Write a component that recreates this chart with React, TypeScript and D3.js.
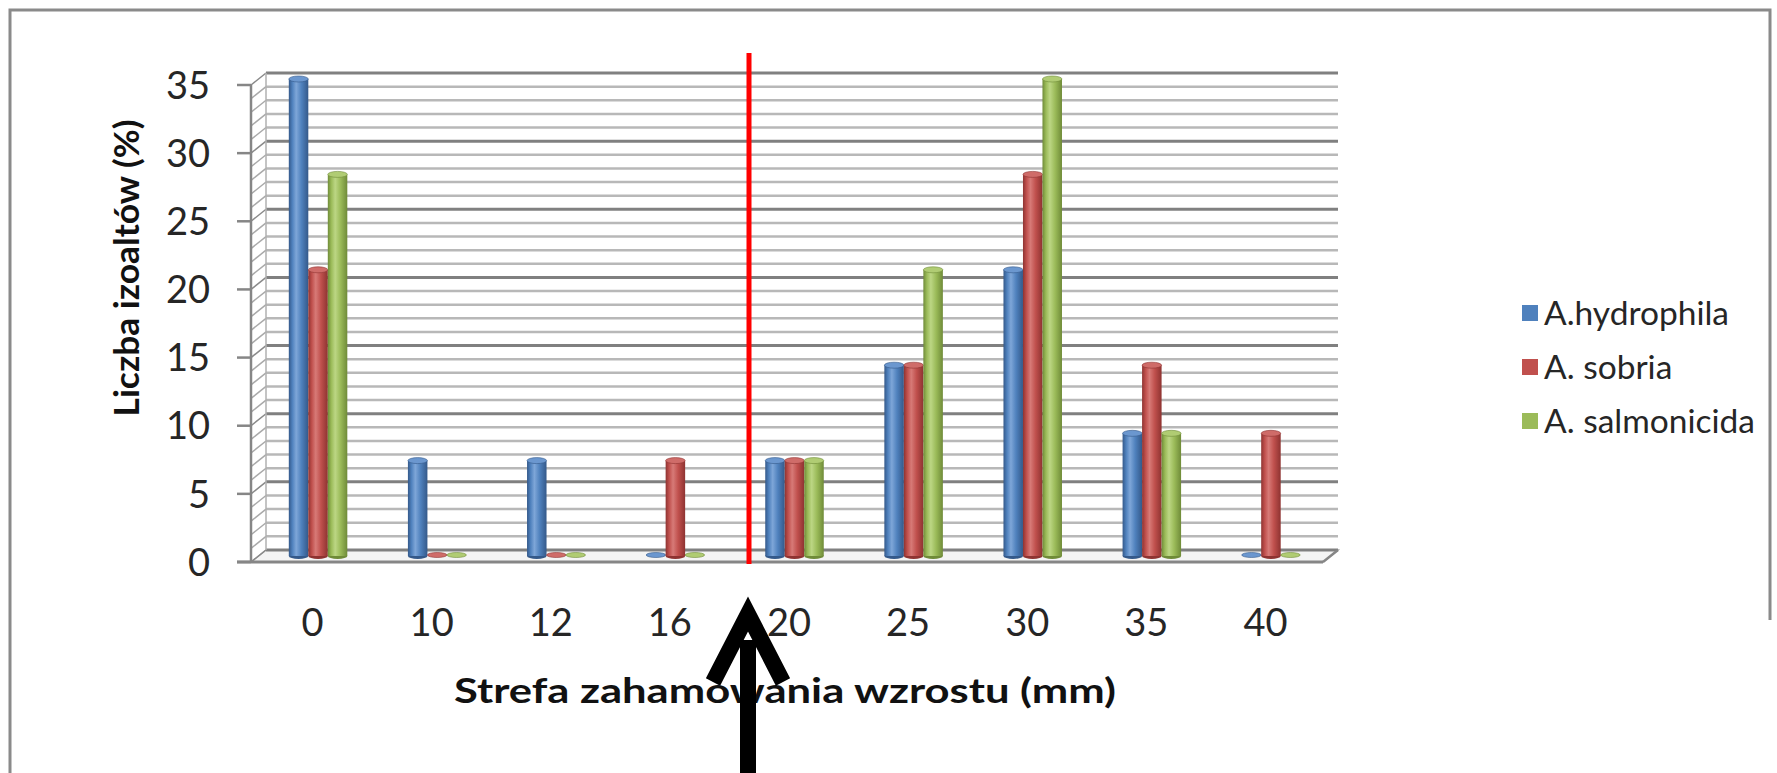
import React from "react";
import * as d3 from "d3";

const categories = ["0", "10", "12", "16", "20", "25", "30", "35", "40"];
const seriesNames = ["A.hydrophila", "A. sobria", "A. salmonicida"];
const hydrophila = [35, 7, 7, 0, 7, 14, 21, 9, 0];
const sobria = [21, 0, 0, 7, 7, 14, 28, 14, 9];
const salmonicida = [28, 0, 0, 0, 7, 21, 35, 9, 0];
const yTicks = [0, 5, 10, 15, 20, 25, 30, 35];
const yMinor = d3.range(0, 36, 1);
const seriesValues = [hydrophila, sobria, salmonicida];

const colors = [
  { base: "#4F81BD", dark: "#34598a", light: "#7ea6d8", top: "#6b97cf" },
  { base: "#C0504D", dark: "#8e3331", light: "#d77a77", top: "#cf6c69" },
  { base: "#9BBB59", dark: "#6f8b38", light: "#bcd684", top: "#b0cc73" },
];

const W = 1777;
const H = 773;
const DX = 15;
const DY = -12;
const FONT = "Lato, 'Open Sans', sans-serif";

export default function App() {
  const x = d3.scaleBand<string>().domain(categories).range([251, 1323]);
  const y = d3.scaleLinear().domain([0, 35]).range([562, 85]);
  const groupW = 58.5;
  const xs = d3.scaleBand<number>().domain([0, 1, 2]).range([0, groupW]);
  const bw = xs.bandwidth();
  const left = 251;
  const right = 1323;

  return (
    <svg
      width={W}
      height={H}
      style={{ position: "absolute", left: 0, top: 0, display: "block", background: "#fff" }}
    >
      <defs>
        {colors.map((c, i) => (
          <linearGradient key={i} id={`cyl${i}`} x1="0" x2="1" y1="0" y2="0">
            <stop offset="0" stopColor={c.dark} />
            <stop offset="0.18" stopColor={c.base} />
            <stop offset="0.38" stopColor={c.light} />
            <stop offset="0.65" stopColor={c.base} />
            <stop offset="1" stopColor={c.dark} />
          </linearGradient>
        ))}
      </defs>
      {/* outer frame */}
      <rect x={0} y={0} width={W} height={H} fill="#fff" />
      <path d={`M10 ${H} L10 10 L1770 10 L1770 620`} fill="none" stroke="#8a8a8a" strokeWidth={3} />

      {/* floor */}
      <polygon
        points={`${left},${y(0)} ${right},${y(0)} ${right + DX},${y(0) + DY} ${left + DX},${y(0) + DY}`}
        fill="#f4f4f4"
        stroke="#a6a6a6"
        strokeWidth={1.5}
      />
      {/* back wall gridlines */}
      {yMinor.map((v) => {
        const major = v % 5 === 0;
        return (
          <g key={v}>
            <line
              x1={left + DX}
              x2={right + DX}
              y1={y(v) + DY}
              y2={y(v) + DY}
              stroke={major ? "#808080" : "#b8b8b8"}
              strokeWidth={major ? 3 : 2.5}
            />
            <line
              x1={left}
              x2={left + DX}
              y1={y(v)}
              y2={y(v) + DY}
              stroke={major ? "#8a8a8a" : "#a9a9a9"}
              strokeWidth={1.5}
            />
          </g>
        );
      })}
      {/* side wall edges */}
      <line x1={left + DX} x2={left + DX} y1={y(35) + DY} y2={y(0) + DY} stroke="#b0b0b0" strokeWidth={1.5} />
      <line x1={left} x2={left} y1={y(35)} y2={y(0)} stroke="#868686" strokeWidth={2.5} />
      {/* floor front edge */}
      <line x1={237} x2={right} y1={y(0)} y2={y(0)} stroke="#868686" strokeWidth={3} />
      <line x1={right} x2={right + DX} y1={y(0)} y2={y(0) + DY} stroke="#868686" strokeWidth={2.5} />
      {/* y ticks */}
      {yTicks.map((t) => (
        <g key={t}>
          <line x1={237} x2={left} y1={y(t)} y2={y(t)} stroke="#868686" strokeWidth={2.5} />
          <text
            x={210}
            y={y(t)}
            dy="0.36em"
            textAnchor="end"
            fontFamily={FONT}
            fontSize={38}
            fill="#262626"
          >
            {t}
          </text>
        </g>
      ))}

      {/* bars */}
      {categories.map((c, ci) => {
        const gx = (x(c) as number) + x.bandwidth() / 2 - groupW / 2 + DX / 2;
        return (
          <g key={c}>
            {seriesValues.map((vals, si) => {
              const v = vals[ci];
              const bx = gx + (xs(si) as number);
              const base = y(0) + DY / 2;
              const top = y(v) + DY / 2;
              const col = colors[si];
              if (v === 0) {
                return (
                  <ellipse
                    key={si}
                    cx={bx + bw / 2}
                    cy={base - 1}
                    rx={bw / 2}
                    ry={2.5}
                    fill={col.top}
                    stroke={col.dark}
                    strokeWidth={0.6}
                  />
                );
              }
              return (
                <g key={si}>
                  <ellipse cx={bx + bw / 2} cy={base} rx={bw / 2} ry={3} fill={col.dark} />
                  <rect x={bx} y={top} width={bw} height={base - top} fill={`url(#cyl${si})`} />
                  <ellipse
                    cx={bx + bw / 2}
                    cy={top}
                    rx={bw / 2}
                    ry={3}
                    fill={col.top}
                    stroke={col.dark}
                    strokeWidth={0.6}
                  />
                </g>
              );
            })}
          </g>
        );
      })}

      {/* x labels */}
      {categories.map((c) => (
        <text
          key={c}
          x={(x(c) as number) + x.bandwidth() / 2 + 2}
          y={636}
          textAnchor="middle"
          fontFamily={FONT}
          fontSize={38}
          fill="#262626"
        >
          {c}
        </text>
      ))}

      {/* axis titles */}
      <text
        x={785}
        y={703}
        textAnchor="middle"
        fontFamily={FONT}
        fontWeight="bold"
        fontSize={34}
        fill="#111"
        textLength={662}
        lengthAdjust="spacingAndGlyphs"
      >
        Strefa zahamowania wzrostu (mm)
      </text>
      <text
        transform={`translate(139,268) rotate(-90)`}
        textAnchor="middle"
        fontFamily={FONT}
        fontWeight="bold"
        fontSize={34}
        fill="#111"
        textLength={297}
        lengthAdjust="spacingAndGlyphs"
      >
        Liczba izoaltów  (%)
      </text>

      {/* legend */}
      {seriesNames.map((n, i) => (
        <g key={n} transform={`translate(1522, ${313 + i * 54})`}>
          <rect x={0} y={-8} width={16} height={16} fill={colors[i].base} />
          <text x={22} y={0} dy="0.36em" fontFamily={FONT} fontSize={33.5} fill="#262626">
            {n}
          </text>
        </g>
      ))}

      {/* red marker line */}
      <line x1={749} x2={749} y1={53} y2={564} stroke="#ff0000" strokeWidth={5} />

      {/* arrow */}
      <line x1={748} x2={748} y1={640} y2={H} stroke="#000" strokeWidth={16} />
      <path d="M 713 682 L 748 614 L 783 682" fill="none" stroke="#000" strokeWidth={16} strokeLinejoin="miter" strokeMiterlimit={10} />
    </svg>
  );
}
